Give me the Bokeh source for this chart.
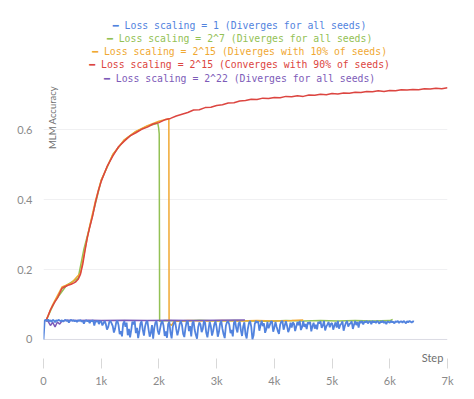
import math
from bokeh.plotting import figure
from bokeh.models import Range1d, FixedTicker, Label, Span, Title
from bokeh.embed import file_html
from bokeh.resources import INLINE

# ---------------- data ----------------
x_ticks = [0, 1000, 2000, 3000, 4000, 5000, 6000, 7000]
x_tick_labels = ["0", "1k", "2k", "3k", "4k", "5k", "6k", "7k"]
y_ticks = [0, 0.2, 0.4, 0.6]
y_tick_labels = ["0", "0.2", "0.4", "0.6"]

series_names = [
    "Loss scaling = 1 (Diverges for all seeds)",
    "Loss scaling = 2^7 (Diverges for all seeds)",
    "Loss scaling = 2^15 (Diverges with 10% of seeds)",
    "Loss scaling = 2^15 (Converges with 90% of seeds)",
    "Loss scaling = 2^22 (Diverges for all seeds)",
]
series_colors = ["#5283DE", "#93C155", "#F0A832", "#DC4540", "#7D5BB8"]

# Loss scaling = 1 : logged every 20 steps from 0 to 6420
blue_step = list(range(0, 6421, 20))
blue_acc = [
    0.0, .054, .056, .053, .057, .052, .055, .050, .056, .054,
    .049, .055, .053, .056, .054, .052, .055, .051, .054, .056,
    .053, .055, .048, .054, .056, .053, .055, .052, .054, .050,
    .055, .053, .056, .051, .054, .045, .053, .055, .052, .054,
    .047, .054, .052, .055, .040, .053, .051, .054, .044, .052,
    .052, .040, .047, .053, .044, .028, .035, .050, .053, .046,
    .038, .020, .031, .049, .054, .041, .015, .024, .009, .045,
    .052, .036, .048, .012, .030, .006, .027, .051, .043, .053,
    .018, .033, .004, .022, .046, .052, .028, .011, .037, .050,
    .053, .029, .008, .019, .041, .002, .034, .049, .052, .025,
    .014, .031, .047, .053, .039, .010, .023, .005, .044, .051,
    .020, .003, .036, .048, .052, .030, .012, .026, .045, .053,
    .041, .016, .007, .033, .050, .053, .024, .038, .009, .047,
    .052, .027, .013, .002, .035, .049, .043, .021, .030, .053,
    .048, .019, .006, .029, .051, .037, .011, .025, .044, .052,
    .034, .008, .022, .046, .053, .031, .015, .004, .039, .050,
    .052, .042, .018, .027, .009, .048, .053, .032, .020, .045,
    .051, .026, .010, .037, .049, .015, .003, .030, .047, .053,
    .036, .001, .012, .044, .053, .048, .052, .025, .040, .054,
    .038, .046, .019, .029, .050, .032, .041, .051, .052, .022,
    .034, .050, .036, .024, .016, .042, .051, .053, .028, .040,
    .052, .039, .021, .030, .048, .034, .049, .045, .024, .037,
    .050, .041, .053, .027, .035, .052, .036, .044, .030, .049,
    .044, .050, .023, .038, .048, .031, .042, .029, .050, .046,
    .052, .033, .040, .053, .026, .037, .043, .050, .035, .045,
    .047, .028, .039, .049, .034, .053, .031, .041, .045, .052,
    .025, .038, .048, .053, .037, .044, .046, .052, .030, .042,
    .053, .041, .050, .034, .052, .047, .053, .043, .051, .049,
    .053, .046, .051, .052, .044, .053, .049, .051, .047, .053,
    .050, .045, .052, .049, .053, .047, .051, .044, .052, .050,
    .048, .053, .049, .051, .046, .052, .050, .053, .047, .051,
    .052, .048, .053, .050, .046, .052, .049, .053, .051, .048,
    .052, .051,
]

# Loss scaling = 2^7
green_step = [40, 200, 400, 600, 700, 800, 1000, 1200, 1400, 1600, 1800, 1980,
              1995, 2005, 2012, 2100, 2400, 2700, 3000, 3300, 3600, 3900, 4200,
              4500, 4800, 5100, 5400, 5700, 6000, 6050]
green_acc = [.052, .110, .155, .175, .258, .322, .455, .528, .570, .594, .610, .618,
             .605, .588, .052, .054, .053, .055, .053, .054, .053, .052, .054,
             .053, .054, .053, .054, .053, .054, .057]

# Loss scaling = 2^15 (diverging seeds)
orange_step = [40, 160, 320, 480, 640, 720, 800, 900, 1000, 1200, 1400, 1600, 1800,
               2000, 2100, 2172, 2176, 2220, 2260, 2500, 2800, 3100, 3400, 3700,
               4000, 4300, 4500]
orange_acc = [.053, .100, .150, .161, .190, .259, .324, .396, .456, .529, .571, .595,
              .611, .624, .628, .631, .045, .040, .052, .054, .053, .054, .053, .054,
              .053, .054, .056]

# Loss scaling = 2^15 (converging seeds)
red_step = [40, 80, 120, 160, 200, 240, 280, 320, 360, 400, 440, 480, 520, 560,
            600, 640, 680, 720, 760, 800, 850, 900, 950, 1000,
            1100, 1200, 1300, 1400, 1500, 1600, 1700, 1800, 1900, 2000,
            2100, 2200, 2300, 2400, 2500, 2600, 2700, 2800, 2900, 3000,
            3100, 3200, 3300, 3400, 3500, 3600, 3700, 3800, 3900, 4000,
            4100, 4200, 4300, 4400, 4500, 4600, 4700, 4800, 4900, 5000,
            5100, 5200, 5300, 5400, 5500, 5600, 5700, 5800, 5900, 6000,
            6100, 6200, 6300, 6400, 6500, 6600, 6700, 6800, 6900, 7000]
red_acc = [.052, .068, .085, .097, .108, .118, .132, .146, .150, .153, .156, .158,
           .161, .165, .172, .186, .215, .255, .292, .320, .352, .392, .425, .452,
           .494, .524, .551, .567, .582, .591, .601, .607, .616, .620,
           .628, .632, .639, .644, .649, .656, .657, .663, .664, .669,
           .671, .676, .677, .682, .683, .687, .686, .690, .689, .692,
           .691, .695, .694, .697, .695, .699, .698, .701, .700, .703,
           .702, .705, .704, .707, .706, .709, .708, .711, .709, .712,
           .711, .714, .713, .715, .714, .717, .716, .718, .717, .720]

# Loss scaling = 2^22
purple_step = [20, 80, 120, 160, 200, 240, 280, 320, 400, 600, 800, 1000, 1400,
               1800, 2200, 2600, 3000, 3490]
purple_acc = [.055, .052, .040, .049, .036, .050, .044, .053, .055, .054, .055,
              .054, .055, .054, .055, .054, .055, .056]

# ---------------- figure ----------------
W, H = 466, 391
p = figure(width=W, height=H, output_backend="svg", toolbar_location=None,
           x_range=Range1d(0, 7000), y_range=Range1d(-0.083, 0.729),
           min_border_left=43, min_border_right=19, min_border_top=84,
           min_border_bottom=23)
p.outline_line_color = None
p.background_fill_color = "white"
p.border_fill_color = "white"

p.xgrid.visible = False
p.ygrid.ticker = FixedTicker(ticks=y_ticks[1:])
p.ygrid.grid_line_color = "#f0f0f2"

p.add_layout(Span(location=0, dimension="width", line_color="#dcdce4",
                  line_width=1, level="underlay"))

axis_font = "Lato"
p.xaxis.ticker = FixedTicker(ticks=x_ticks)
p.xaxis.major_label_overrides = dict(zip(x_ticks, x_tick_labels))
p.xaxis.axis_line_color = None
p.xaxis.major_tick_line_color = "#d8d8d8"
p.xaxis.major_tick_out = 0
p.xaxis.major_tick_in = 10
p.xaxis.minor_tick_line_color = None
p.xaxis.major_label_standoff = 5
p.xaxis.major_label_text_font = axis_font
p.xaxis.major_label_text_font_size = "11px"
p.xaxis.major_label_text_color = "#8a8a8a"

p.yaxis.ticker = FixedTicker(ticks=y_ticks)
p.yaxis.major_label_overrides = dict(zip(y_ticks, y_tick_labels))
p.yaxis.axis_line_color = None
p.yaxis.major_tick_line_color = None
p.yaxis.major_tick_out = 0
p.yaxis.major_tick_in = 0
p.yaxis.minor_tick_line_color = None
p.yaxis.major_label_standoff = 11
p.yaxis.major_label_text_font = axis_font
p.yaxis.major_label_text_font_size = "11px"
p.yaxis.major_label_text_color = "#8a8a8a"

lw = 1.5
p.line(green_step, green_acc, line_color=series_colors[1], line_width=lw)
p.line(orange_step, orange_acc, line_color=series_colors[2], line_width=lw)
p.line(red_step, red_acc, line_color=series_colors[3], line_width=lw)
p.line(purple_step, purple_acc, line_color=series_colors[4], line_width=lw)
p.line(blue_step, blue_acc, line_color=series_colors[0], line_width=1.8)

# legend rows: first added sits closest to the frame
rows = list(zip(series_names, series_colors))
for i, (name, col) in enumerate(reversed(rows)):
    p.add_layout(Title(text="\u2501 " + name + "\u00a0\u00a0", align="center",
                       text_font="DejaVu Sans Mono", text_font_size="9.8px",
                       text_font_style="normal", text_color=col,
                       text_line_height=0.85,
                       standoff=2 if i == 0 else 0), "above")

p.add_layout(Label(x=9, y=251, x_units="screen", y_units="screen",
                   text="MLM Accuracy", angle=math.pi / 2, text_align="center",
                   text_baseline="middle", text_font=axis_font,
                   text_font_size="9.5px", text_color="#707070"))
p.add_layout(Label(x=389, y=11, x_units="screen", y_units="screen",
                   text="Step", text_align="center", text_baseline="middle",
                   text_font=axis_font, text_font_size="11px",
                   text_color="#707070"))

open("out.html", "w").write(file_html(p, INLINE))
